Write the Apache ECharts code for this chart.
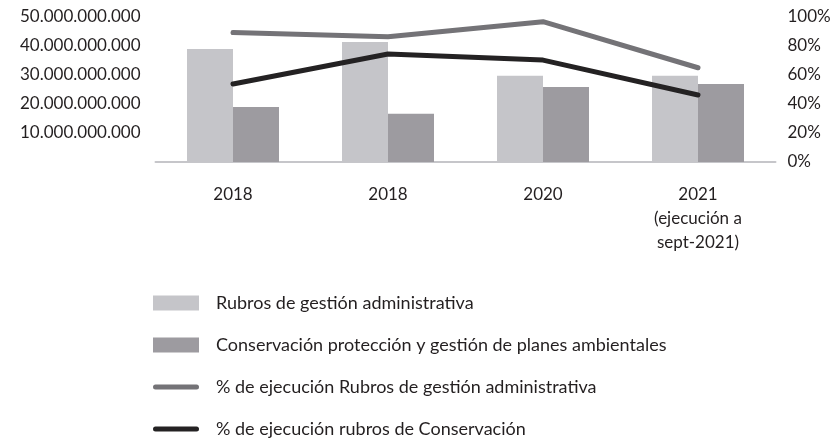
<!DOCTYPE html>
<html lang="es">
<head>
<meta charset="UTF-8">
<title>Ejecución presupuestal</title>
<script src="https://cdn.jsdelivr.net/npm/echarts@6/dist/echarts.min.js"></script>
<style>
  html, body { margin: 0; padding: 0; background: #fff; }
  #chart { width: 839px; height: 439px; }
</style>
</head>
<body>
<div id="chart"></div>
<script>
// categorías y valores
var years = ['2018', '2018', '2020', '2021\n(ejecución a\nsept-2021)']
var gestionAdmin = [39.0e9, 41.4e9, 29.7e9, 29.7e9]
var conservacion = [19.0e9, 16.6e9, 25.9e9, 26.9e9]
var pctAdmin = [89.3, 86.4, 96.8, 65.0]
var pctConserv = [53.8, 74.5, 70.3, 46.2]

var names = [
    'Rubros de gestión administrativa',
    'Conservación protección y gestión de planes ambientales',
    '% de ejecución Rubros de gestión administrativa',
    '% de ejecución rubros de Conservación'
]

var font = 'Lato'
var textColor = '#231f20'
// icono de línea gruesa con extremos redondeados para la leyenda
var lineIcon = 'path://M2.5,0 L43.5,0 A2.5,2.5 0 0 1 43.5,5 L2.5,5 A2.5,2.5 0 0 1 2.5,0 Z'

function miles(v) {
    if (v === 0) return ''
    return String(Math.round(v)).replace(/\B(?=(\d{3})+(?!\d))/g, '.')
}

var chart = echarts.init(document.getElementById('chart'))
chart.setOption({
    animation: false,
    textStyle: { fontFamily: font, color: textColor },
    grid: { left: 155.5, right: 63.5, top: 17, height: 145 },
    legend: {
        orient: 'vertical',
        left: 153,
        top: 294,
        padding: 0,
        itemWidth: 46,
        itemHeight: 15,
        itemGap: 24,
        itemStyle: { borderWidth: 0 },
        textStyle: { fontFamily: font, fontSize: 18, lineHeight: 18, color: textColor, padding: [0, 0, 0, 12] },
        data: [
            { name: names[0], icon: 'rect' },
            { name: names[1], icon: 'rect' },
            { name: names[2], icon: lineIcon },
            { name: names[3], icon: lineIcon }
        ]
    },
    xAxis: {
        type: 'category',
        data: years,
        axisLine: { lineStyle: { color: '#c6c6ca', width: 2 } },
        axisTick: { show: false },
        axisLabel: { fontFamily: font, fontSize: 17, color: textColor, lineHeight: 24, margin: 21 }
    },
    yAxis: [
        {
            type: 'value', min: 0, max: 50e9, interval: 10e9,
            splitLine: { show: false },
            axisLine: { show: false },
            axisTick: { show: false },
            axisLabel: { fontFamily: font, fontSize: 17, color: textColor, margin: 15, formatter: miles }
        },
        {
            type: 'value', min: 0, max: 100, interval: 20,
            splitLine: { show: false },
            axisLine: { show: false },
            axisTick: { show: false },
            axisLabel: { fontFamily: font, fontSize: 17, color: textColor, margin: 12, formatter: '{value}%' }
        }
    ],
    series: [
        {
            name: names[0], type: 'bar', data: gestionAdmin,
            barWidth: 46, barGap: '0%',
            itemStyle: { color: '#c5c5c9' }
        },
        {
            name: names[1], type: 'bar', data: conservacion,
            barWidth: 46,
            itemStyle: { color: '#9d9ba0' }
        },
        {
            name: names[2], type: 'line', yAxisIndex: 1, data: pctAdmin,
            symbol: 'none',
            lineStyle: { color: '#747377', width: 5, cap: 'round', join: 'round' },
            itemStyle: { color: '#747377' }
        },
        {
            name: names[3], type: 'line', yAxisIndex: 1, data: pctConserv,
            symbol: 'none',
            lineStyle: { color: '#242223', width: 5, cap: 'round', join: 'round' },
            itemStyle: { color: '#242223' }
        }
    ]
})
</script>
</body>
</html>
